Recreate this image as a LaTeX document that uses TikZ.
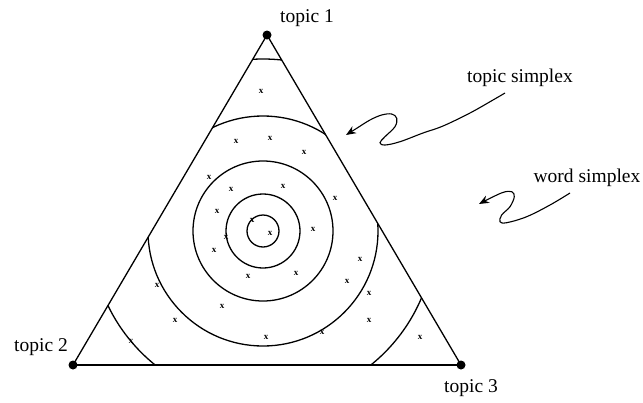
\documentclass[tikz,border=0pt]{standalone}
\usepackage{fontspec}
\setmainfont{Liberation Serif}
\usetikzlibrary{arrows.meta, positioning}
\tikzset{
  edge/.style   = {line width=1.3pt, black},
  ring/.style   = {line width=1.3pt, black},
  vertex/.style = {circle, fill=black, inner sep=0pt, minimum size=9pt},
  lbl/.style    = {inner sep=0pt, font=\fontsize{19.5}{23}\selectfont},
  wmark/.style  = {inner sep=0pt, font=\fontsize{9}{9}\selectfont\bfseries},
  squig/.style  = {-{Stealth[length=10pt, width=8pt]}, line width=1.1pt},
}
\begin{document}
\begin{tikzpicture}[x=1pt, y=-1pt]
\useasboundingbox (0,0) rectangle (643,402);

\coordinate (t1) at (267,35);
\coordinate (t2) at (73,365);
\coordinate (t3) at (461,365);
\coordinate (c)  at (263,231);

% level sets, cut by the simplex
\begin{scope}
  \clip (t1) -- (t2) -- (t3) -- cycle;
  \foreach \r in {16,37,70,115,172}
    \draw[ring] (c) circle[radius=\r];
\end{scope}

\draw[edge] (t2) -- (t1) -- (t3);
\draw[edge, line width=2pt] (t2) -- (t3);

\node[vertex] (v1) at (t1) {};
\node[vertex] (v2) at (t2) {};
\node[vertex] (v3) at (t3) {};

\node[lbl] (l1) at (307,18)  {topic 1};
\node[lbl] (l2) at (41,347)  {topic 2};
\node[lbl] (l3) at (471,388) {topic 3};
\node[lbl] (ts) at (520,78)  {topic simplex};
\node[lbl] (ws) at (587,178) {word simplex};

% sampled words
\foreach \px/\py [count=\i] in {261/91, 236/141, 270/138, 304/152, 209/177,
    231/189, 283/186, 335/198, 217/211, 313/229, 252/220, 270/233, 226/237,
    214/250, 360/259, 248/276, 296/273, 347/281, 157/285, 369/293, 222/306,
    175/320, 369/320, 266/337, 322/332, 131/341, 420/337}
  \node[wmark] (x\i) at (\px,\py) {x};

% pointers
\coordinate (tsStart) at (505,93);
\coordinate (tsTip)   at (346,135);
\coordinate (wsStart) at (570,193);
\coordinate (wsTip)   at (479,204);

\draw[squig] plot[smooth, tension=0.6] coordinates {(tsStart) (493,100)
  (470,113) (443,126) (423,133) (400,141.7) (385,145) (380,142.7)
  (385,136.7) (395,126.7) (396.7,118.3) (391.7,114) (381.7,115)
  (370,120) (356.7,128.3) (tsTip)};
\draw[squig] plot[smooth, tension=0.6] coordinates {(wsStart) (550,205)
  (526.7,216.7) (506.7,222.7) (500,221.7) (501.7,215) (510,206.7)
  (514.3,196.7) (511.7,191.7) (503.3,192.3) (490,198.3) (wsTip)};

\end{tikzpicture}
\end{document}
